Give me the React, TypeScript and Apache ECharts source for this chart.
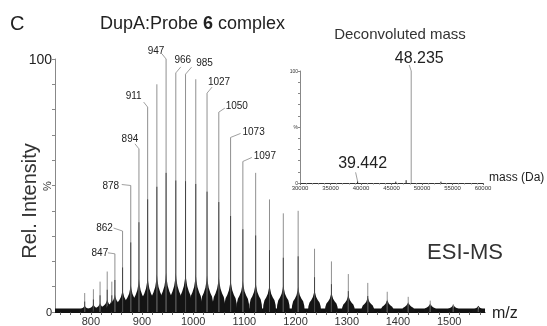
import React, { useEffect, useRef } from 'react';
import * as echarts from 'echarts';

// ---------- data ----------
const mzPeaks = [788, 805, 818, 832, 841, 847, 862, 878, 894, 911, 929, 947, 966, 985, 1005, 1027, 1050, 1073, 1097, 1122, 1149, 1176, 1205, 1237, 1270, 1303, 1341, 1379, 1420, 1463, 1508, 1557];
const peakIntensity = [7.5, 9, 12, 16, 12, 23, 32, 50, 64.5, 81, 90, 100, 94.5, 94, 92, 86.5, 79, 69, 59.5, 55, 44.5, 39, 40, 25, 20, 15, 11.5, 8, 6, 4.5, 3, 2];
const envelopeHeight = [2.5, 3, 3.5, 5, 5, 7, 9, 11, 13, 14, 15, 15.5, 15.5, 15.5, 15, 14.5, 14, 13, 12.5, 12, 11, 11, 10, 9, 8, 7, 6, 5, 4, 3.5, 3, 2.5];
const labelledMz = [847, 862, 878, 894, 911, 947, 966, 985, 1027, 1050, 1073, 1097];
const mzTickLabels = [800, 900, 1000, 1100, 1200, 1300, 1400, 1500];
const baselineNoise = [[730, 0.6], [1570, 0.6]];

const massPeaks = [39442, 45700, 47400, 48235, 53100];
const massIntensity = [1.5, 1.2, 2.5, 100, 1.2];
const labelledMass = [39442, 48235];
const massLabels = ['39.442', '48.235'];

// ---------- styling ----------
const FONT = '"Liberation Sans", Arial, Helvetica, sans-serif';
// [text dx, text dy, leader end dx, leader end dy] relative to the peak top (px)
const labelOffset: Record<number, number[]> = {
  847: [-15, -1, -7, -1],
  862: [-18, -4, -9, -3],
  878: [-20, 0, -9, -1],
  894: [-9, -10, -4, -5],
  911: [-14, -12, -4, -5],
  947: [-10, -9, -4, -5],
  966: [7, -13, 5, -6],
  985: [19, -12, 6, -7],
  1027: [12, -12, 5, -6],
  1050: [18, -7, 6, -4],
  1073: [23, -6, 10, -4],
  1097: [22, -6, 9, -4],
  39442: [5, -19, -2, -9],
  48235: [8, -14, -2, -6],
};

const mzTicks: number[] = [];
for (let v = 740; v <= 1560; v += 20) mzTicks.push(v);

const hump = [[-1, 0], [-0.92, 0.25], [-0.75, 0.42], [-0.5, 0.52], [-0.25, 0.66], [-0.08, 0.85], [0, 1], [0.08, 0.85], [0.25, 0.66], [0.5, 0.52], [0.75, 0.42], [0.92, 0.25], [1, 0]];

function mainRender(params: any, api: any) {
  const mz = api.value(0) as number;
  const h = api.value(1) as number;
  const env = api.value(2) as number;
  const hw = 13;
  const pts = hump.map(([fx, fy]) => api.coord([mz + fx * hw, fy * env]));
  const [bx, by] = api.coord([mz, 0]);
  const [tx, ty] = api.coord([mz, h]);
  const my = api.coord([mz, h * 0.55])[1];
  const children: any[] = [
    { type: 'polygon', shape: { points: pts }, style: { fill: '#141414' } },
    { type: 'line', shape: { x1: bx, y1: by, x2: tx, y2: ty }, style: { stroke: '#909090', lineWidth: 1 } },
    { type: 'line', shape: { x1: bx, y1: by, x2: bx, y2: my }, style: { stroke: '#3a3a3a', lineWidth: 0.9 } },
  ];
  const off = labelOffset[mz];
  if (labelledMz.indexOf(mz) >= 0 && off) {
    children.push({ type: 'line', shape: { x1: tx, y1: ty, x2: tx + off[2], y2: ty + off[3] }, style: { stroke: '#888', lineWidth: 0.8 } });
    children.push({
      type: 'text', x: tx + off[0], y: ty + off[1],
      style: { text: String(mz), fill: '#222', font: `10px ${FONT}`, align: 'center', verticalAlign: 'middle' },
    });
  }
  return { type: 'group', children };
}

function insetRender(params: any, api: any) {
  const m = api.value(0) as number;
  const h = api.value(1) as number;
  const [bx, by] = api.coord([m, 0]);
  const [tx, ty] = api.coord([m, h]);
  const children: any[] = [
    { type: 'line', shape: { x1: bx, y1: by, x2: tx, y2: ty }, style: { stroke: h > 50 ? '#a8a8a8' : '#222', lineWidth: h > 50 ? 1.2 : 1 } },
  ];
  const idx = labelledMass.indexOf(m);
  const off = labelOffset[m];
  if (idx >= 0 && off) {
    children.push({ type: 'line', shape: { x1: tx, y1: ty, x2: tx + off[2], y2: ty + off[3] }, style: { stroke: '#888', lineWidth: 0.8 } });
    children.push({
      type: 'text', x: tx + off[0], y: ty + off[1],
      style: { text: massLabels[idx], fill: '#222', font: `16px ${FONT}`, align: 'center', verticalAlign: 'middle' },
    });
  }
  return { type: 'group', children };
}

export default function App() {
  const ref = useRef<HTMLDivElement>(null);
  useEffect(() => {
    const chart = echarts.init(ref.current!, undefined, { renderer: 'svg' });
    const mainData = mzPeaks.map((mz, i) => [mz, peakIntensity[i], envelopeHeight[i]]);
    const insetData = massPeaks.map((m, i) => [m, massIntensity[i]]);
    chart.setOption({
      animation: false,
      textStyle: { fontFamily: FONT },
      grid: [
        { left: 55, right: 62, top: 59, bottom: 14 },
        { left: 300, right: 64, top: 71, bottom: 143 },
      ],
      xAxis: [
        {
          type: 'value', gridIndex: 0, min: 730, max: 1570,
          name: 'm/z', nameLocation: 'end', nameGap: 7,
          nameTextStyle: { fontSize: 16, color: '#222', fontFamily: FONT, verticalAlign: 'middle' },
          axisLine: { show: true, lineStyle: { color: '#111', width: 1 } },
          axisTick: { show: true, length: 3, customValues: mzTicks, lineStyle: { color: '#666' } },
          axisLabel: { customValues: mzTickLabels, fontSize: 11, color: '#333', margin: 3, fontFamily: FONT, formatter: (v: number) => String(v) },
          splitLine: { show: false },
        },
        {
          type: 'value', gridIndex: 1, min: 30000, max: 60000, interval: 5000,
          name: 'mass (Da)', nameLocation: 'end', nameGap: 6,
          nameTextStyle: { fontSize: 12, color: '#222', fontFamily: FONT, verticalAlign: 'bottom' },
          axisLine: { show: true, lineStyle: { color: '#333', width: 1 } },
          axisTick: { show: true, length: 2, lineStyle: { color: '#666' } },
          minorTick: { show: true, splitNumber: 5, length: 1.5, lineStyle: { color: '#888' } },
          axisLabel: { fontSize: 6, color: '#333', margin: 2, fontFamily: FONT, formatter: (v: number) => String(v) },
          splitLine: { show: false },
        },
      ],
      yAxis: [
        {
          type: 'value', gridIndex: 0, min: 0, max: 100, interval: 10,
          axisLine: { show: true, lineStyle: { color: '#888' } },
          axisTick: { show: true, length: 3, lineStyle: { color: '#888' } },
          axisLabel: {
            margin: 3,
            formatter: (v: number) => (v === 100 ? '{big|100}' : v === 0 ? '{small|0}' : ''),
            rich: {
              big: { fontSize: 14, color: '#222', fontFamily: FONT },
              small: { fontSize: 11, color: '#222', fontFamily: FONT },
            },
          },
          splitLine: { show: false },
        },
        {
          type: 'value', gridIndex: 1, min: 0, max: 100, interval: 10,
          axisLine: { show: true, lineStyle: { color: '#888' } },
          axisTick: { show: true, length: 2, lineStyle: { color: '#888' } },
          axisLabel: {
            margin: 2, fontSize: 5, color: '#333', fontFamily: FONT,
            formatter: (v: number) => (v === 100 ? '100' : v === 50 ? '%' : v === 0 ? '0' : ''),
          },
          splitLine: { show: false },
        },
      ],
      series: [
        {
          type: 'line', xAxisIndex: 0, yAxisIndex: 0, data: baselineNoise, symbol: 'none',
          lineStyle: { color: '#111', width: 4 }, silent: true, z: 1,
        },
        {
          type: 'custom', xAxisIndex: 0, yAxisIndex: 0, data: mainData, clip: false,
          renderItem: mainRender, encode: { x: 0, y: 1 }, silent: true, z: 2,
        },
        {
          type: 'custom', xAxisIndex: 1, yAxisIndex: 1, data: insetData, clip: false,
          renderItem: insetRender, encode: { x: 0, y: 1 }, silent: true, z: 2,
        },
      ],
      graphic: [
        { type: 'text', x: 10, y: 23, style: { text: 'C', font: `20px ${FONT}`, fill: '#222', verticalAlign: 'middle' } },
        {
          type: 'text', x: 100, y: 23,
          style: {
            text: '{a|DupA:Probe }{b|6}{a| complex}', verticalAlign: 'middle', fill: '#222',
            rich: {
              a: { fontSize: 18, fontFamily: FONT, fill: '#222' },
              b: { fontSize: 18, fontFamily: FONT, fontWeight: 'bold', fill: '#222' },
            },
          },
        },
        { type: 'text', x: 400, y: 33, style: { text: 'Deconvoluted mass', font: `15px ${FONT}`, fill: '#333', align: 'center', verticalAlign: 'middle' } },
        { type: 'text', x: 465, y: 251, style: { text: 'ESI-MS', font: `22px ${FONT}`, fill: '#333', align: 'center', verticalAlign: 'middle' } },
        { type: 'text', x: 29, y: 201, rotation: Math.PI / 2, style: { text: 'Rel. Intensity', font: `20px ${FONT}`, fill: '#333', align: 'center', verticalAlign: 'middle' } },
        { type: 'text', x: 47, y: 186, rotation: Math.PI / 2, style: { text: '%', font: `11px ${FONT}`, fill: '#333', align: 'center', verticalAlign: 'middle' } },
      ],
    });
    return () => chart.dispose();
  }, []);
  return <div ref={ref} style={{ position: 'fixed', left: 0, top: 0, width: 547, height: 326 }} />;
}
